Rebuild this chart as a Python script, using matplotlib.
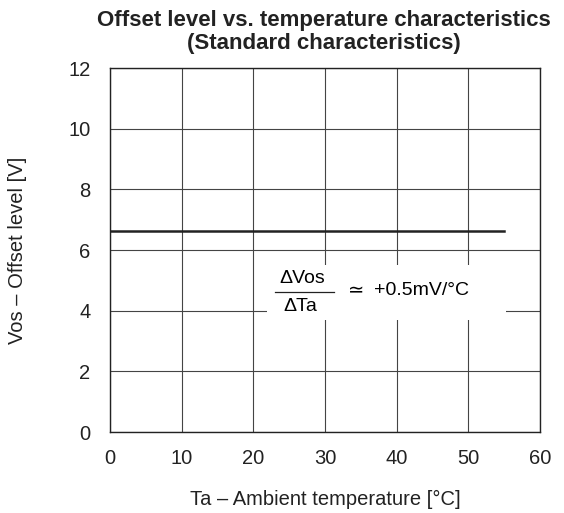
import matplotlib
matplotlib.use("Agg")
import matplotlib.pyplot as plt
from matplotlib.patches import Rectangle
from matplotlib.lines import Line2D

plt.rcParams['font.family'] = ['Liberation Sans', 'DejaVu Sans']

temp = [0, 55]
offset = [6.62, 6.62]
xticks = [0, 10, 20, 30, 40, 50, 60]
yticks = [0, 2, 4, 6, 8, 10, 12]

fig = plt.figure(figsize=(5.64, 5.13), dpi=100)
ax = fig.add_axes([110/564, 1-432/513, 430/564, 364/513])
ax.set_xlim(0, 60)
ax.set_ylim(0, 12)
ax.set_xticks(xticks)
ax.set_yticks(yticks)
ax.grid(True, color='#444444', linewidth=0.8)
ax.tick_params(length=0, labelsize=14.5, colors='#222222')
ax.tick_params(axis='x', pad=12)
ax.tick_params(axis='y', pad=14)
for s in ax.spines.values():
    s.set_color('#222222')
    s.set_linewidth(1.0)

ax.plot(temp, offset, color='#222222', linewidth=1.8, zorder=3)

# white box covering grid
ax.add_patch(Rectangle((21.9, 3.7), 33.4, 1.8, facecolor='white', edgecolor='none', zorder=2.5))
ax.text(26.8, 5.05, 'ΔVos', ha='center', va='center', fontsize=14, zorder=4)
ax.add_line(Line2D([23.0, 31.3], [4.62, 4.62], color='#222222', linewidth=0.9, zorder=4))
ax.text(26.6, 4.15, 'ΔTa', ha='center', va='center', fontsize=14, zorder=4)
ax.text(34.3, 4.62, '≃', ha='center', va='center', fontsize=14, zorder=4)
ax.text(36.8, 4.65, '+0.5mV/°C', ha='left', va='center', fontsize=14, zorder=4)

ax.set_xlabel('Ta – Ambient temperature [°C]', fontsize=14.5, labelpad=16, color='#222222')
ax.set_ylabel('Vos – Offset level [V]', fontsize=14.5, labelpad=30, color='#222222')
fig.text(0.575, 1-32/513, 'Offset level vs. temperature characteristics\n(Standard characteristics)',
         ha='center', va='center', fontsize=16, fontweight='bold', linespacing=1.1, color='#222222')

fig.savefig('out.png', dpi=100)
